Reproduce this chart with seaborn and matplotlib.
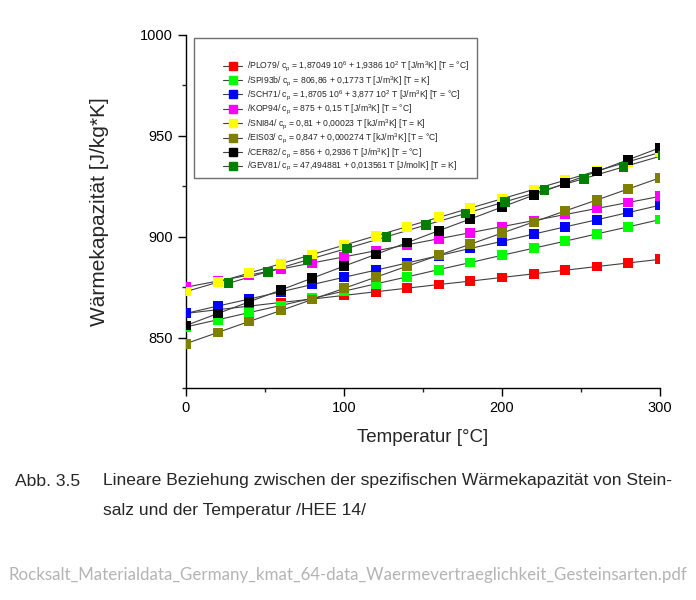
import matplotlib
matplotlib.use('Agg')

import pandas as pd
import seaborn as sns
import matplotlib.pyplot as plt
from matplotlib.lines import Line2D
from matplotlib.patches import Rectangle
from matplotlib.ticker import MultipleLocator

# temperature grid in degC (most sources), GEV81 was given in Kelvin
temp_c = [0, 20, 40, 60, 80, 100, 120, 140, 160, 180, 200, 220, 240, 260, 280, 300]
temp_gev = [26.85, 51.85, 76.85, 101.85, 126.85, 151.85, 176.85, 201.85,
            226.85, 251.85, 276.85, 301.85]

plo79 = [862.0, 863.8, 865.6, 867.4, 869.1, 870.9, 872.7, 874.5,
         876.3, 878.0, 879.8, 881.6, 883.4, 885.2, 887.0, 888.8]
spi93b = [855.3, 858.8, 862.4, 865.9, 869.5, 873.0, 876.6, 880.1,
          883.7, 887.2, 890.8, 894.3, 897.8, 901.4, 904.9, 908.5]
sch71 = [862.0, 865.6, 869.1, 872.7, 876.3, 879.9, 883.4, 887.0,
         890.6, 894.2, 897.7, 901.3, 904.9, 908.4, 912.0, 915.6]
kop94 = [875.0, 878.0, 881.0, 884.0, 887.0, 890.0, 893.0, 896.0,
         899.0, 902.0, 905.0, 908.0, 911.0, 914.0, 917.0, 920.0]
sni84 = [872.8, 877.4, 882.0, 886.6, 891.2, 895.8, 900.4, 905.0,
         909.6, 914.2, 918.8, 923.4, 928.0, 932.6, 937.2, 941.8]
eis03 = [847.0, 852.5, 858.0, 863.4, 868.9, 874.4, 879.9, 885.4,
         890.8, 896.3, 901.8, 907.3, 912.8, 918.2, 923.7, 929.2]
cer82 = [856.0, 861.9, 867.7, 873.6, 879.5, 885.4, 891.2, 897.1,
         903.0, 908.8, 914.7, 920.6, 926.5, 932.3, 938.2, 944.1]
gev81 = [876.9, 882.7, 888.5, 894.2, 900.0, 905.8, 911.5, 917.3,
         923.1, 928.8, 934.6, 940.3]

sources = ['PLO79', 'SPI93b', 'SCH71', 'KOP94', 'SNI84', 'EIS03', 'CER82', 'GEV81']
colors = ['#ff0000', '#00ff00', '#0000ff', '#ff00ff', '#ffff00', '#808000', '#000000', '#008000']
labels = [
    r'/PLO79/ c$_\mathregular{p}$ = 1,87049 10$^\mathregular{6}$ + 1,9386 10$^\mathregular{2}$ T [J/m$^\mathregular{3}$K] [T = °C]',
    r'/SPI93b/ c$_\mathregular{p}$ = 806,86 + 0,1773 T [J/m$^\mathregular{3}$K] [T = K]',
    r'/SCH71/ c$_\mathregular{p}$ = 1,8705 10$^\mathregular{6}$ + 3,877 10$^\mathregular{2}$ T [J/m$^\mathregular{3}$K] [T = °C]',
    r'/KOP94/ c$_\mathregular{p}$ = 875 + 0,15 T [J/m$^\mathregular{3}$K] [T = °C]',
    r'/SNI84/ c$_\mathregular{p}$ = 0,81 + 0,00023 T [kJ/m$^\mathregular{3}$K] [T = K]',
    r'/EIS03/ c$_\mathregular{p}$ = 0,847 + 0,000274 T [kJ/m$^\mathregular{3}$K] [T = °C]',
    r'/CER82/ c$_\mathregular{p}$ = 856 + 0,2936 T [J/m$^\mathregular{3}$K] [T = °C]',
    r'/GEV81/ c$_\mathregular{p}$ = 47,494881 + 0,013561 T [J/molK] [T = K]',
]


def build_table():
    values = [plo79, spi93b, sch71, kop94, sni84, eis03, cer82, gev81]
    frames = []
    for name, cp in zip(sources, values):
        temps = temp_gev if name == 'GEV81' else temp_c
        frames.append(pd.DataFrame({'T': temps, 'cp': cp, 'source': name}))
    return pd.concat(frames, ignore_index=True)


def main():
    sns.set_style('ticks')
    plt.rcParams['font.family'] = ['Liberation Sans', 'DejaVu Sans']
    plt.rcParams['mathtext.fontset'] = 'custom'
    plt.rcParams['mathtext.rm'] = 'Liberation Sans'

    df = build_table()

    fig = plt.figure(figsize=(6.96, 6.0), dpi=100)
    ax = fig.add_axes([186 / 696, 1 - 388 / 600, 474 / 696, 353 / 600])

    # thin grey connecting lines, coloured square markers on top
    sns.lineplot(data=df, x='T', y='cp', units='source', estimator=None, sort=False,
                 color='#404040', linewidth=0.8, legend=False, ax=ax)
    sns.scatterplot(data=df, x='T', y='cp', hue='source', hue_order=sources,
                    palette=colors, marker='s', s=50, linewidth=0,
                    legend=False, ax=ax, zorder=3)

    ax.set_xlim(0, 300)
    ax.set_ylim(825, 1000)
    ax.xaxis.set_major_locator(MultipleLocator(100))
    ax.xaxis.set_minor_locator(MultipleLocator(50))
    ax.yaxis.set_major_locator(MultipleLocator(50))
    ax.yaxis.set_minor_locator(MultipleLocator(25))
    ax.tick_params(which='major', direction='out', length=6, width=1, labelsize=10.5, colors='black')
    ax.tick_params(which='minor', direction='out', length=3, width=1)
    for side in ['top', 'right']:
        ax.spines[side].set_visible(False)
    for side in ['left', 'bottom']:
        ax.spines[side].set_color('black')
        ax.spines[side].set_linewidth(1)

    ax.set_xlabel('Temperatur [°C]', fontsize=13.5, labelpad=10)
    ax.set_ylabel('Wärmekapazität [J/kg*K]', fontsize=15, labelpad=22)

    # legend box
    fig.add_artist(Rectangle((194 / 696, 1 - 178 / 600), 283 / 696, 140 / 600,
                             transform=fig.transFigure, facecolor='white',
                             edgecolor='#707070', linewidth=1, zorder=4))
    handles = [Line2D([0], [0], color='#404040', linewidth=0.8, marker='s',
                      markersize=6, markerfacecolor=c, markeredgecolor=c)
               for c in colors]
    leg = fig.legend(handles, labels, loc='upper left',
                     bbox_to_anchor=(219 / 696, 1 - 55 / 600),
                     frameon=False, fontsize=6.2, handlelength=2.2,
                     handletextpad=0.5, labelspacing=0.07, borderpad=0)
    leg.set_zorder(5)

    # caption below the figure
    fig.text(15 / 696, 1 - 481 / 600, 'Abb. 3.5', fontsize=12.6, va='center')
    fig.text(103 / 696, 1 - 481 / 600,
             'Lineare Beziehung zwischen der spezifischen Wärmekapazität von Stein-',
             fontsize=12.6, va='center')
    fig.text(103 / 696, 1 - 510 / 600, 'salz und der Temperatur /HEE 14/',
             fontsize=12.6, va='center')
    fig.text(8 / 696, 1 - 575 / 600,
             'Rocksalt_Materialdata_Germany_kmat_64-data_Waermevertraeglichkeit_Gesteinsarten.pdf',
             fontsize=12.2, va='center', color='#b4b4b4', family=['Lato', 'DejaVu Sans'])

    plt.savefig('out.png', dpi=100)


if __name__ == '__main__':
    main()
